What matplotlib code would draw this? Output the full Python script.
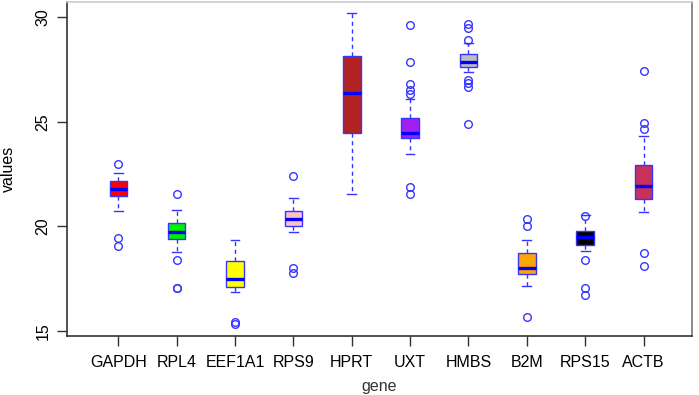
import matplotlib
matplotlib.use('Agg')
import matplotlib.pyplot as plt

plt.rcParams['font.family'] = ['Liberation Sans', 'DejaVu Sans']

# ── Data ──────────────────────────────────────────────────────────────────────
genes = ['GAPDH', 'RPL4', 'EEF1A1', 'RPS9', 'HPRT', 'UXT', 'HMBS', 'B2M', 'RPS15', 'ACTB']
whisker_lo = [20.75, 18.76, 16.85, 19.74, 21.53, 23.46, 27.39, 17.16, 18.84, 20.67]
q1         = [21.45, 19.38, 17.12, 20.03, 24.45, 24.21, 27.63, 17.72, 19.11, 21.32]
median     = [21.80, 19.74, 17.50, 20.38, 26.37, 24.47, 27.84, 18.01, 19.48, 21.93]
q3         = [22.17, 20.15, 18.33, 20.73, 28.14, 25.16, 28.22, 18.71, 19.79, 22.93]
whisker_hi = [22.53, 20.80, 19.35, 21.34, 30.18, 26.08, 28.75, 19.36, 20.54, 24.33]
outliers = [
    [22.96, 19.46, 19.06],
    [21.56, 18.38, 17.04, 17.06],
    [15.46, 15.33],
    [22.41, 18.02, 17.80],
    [],
    [29.62, 27.87, 26.79, 26.51, 26.32, 21.89, 21.53],
    [29.67, 29.46, 28.90, 26.99, 26.86, 26.64, 24.88],
    [20.34, 20.03, 15.68],
    [20.49, 18.39, 17.05, 16.72],
    [27.44, 24.92, 24.64, 18.71, 18.11],
]
fill_colors = ['#ff0000', '#00ee00', '#ffff00', '#ffc0cb', '#b22222',
               '#a020f0', '#bebebe', '#ffa500', '#000000', '#c8325a']

stats = [
    dict(label=g, whislo=wl, q1=a, med=m, q3=b, whishi=wh, fliers=o)
    for g, wl, a, m, b, wh, o in zip(genes, whisker_lo, q1, median, q3, whisker_hi, outliers)
]

# ── Plot ──────────────────────────────────────────────────────────────────────
fig = plt.figure(figsize=(6.99, 3.95), dpi=100)
ax = fig.add_axes([0.0959, 0.1494, 0.894, 0.8456])

positions = list(range(1, len(genes) + 1))
blue = '#3535ff'
bp = ax.bxp(
    stats, positions=positions, widths=0.3, capwidths=0.15, patch_artist=True,
    boxprops=dict(edgecolor=blue, linewidth=1.0),
    whiskerprops=dict(color=blue, linewidth=1.0, linestyle=(0, (3, 2.5))),
    capprops=dict(color=blue, linewidth=1.0),
    medianprops=dict(color='#0000ff', linewidth=2.4, solid_capstyle='butt'),
    flierprops=dict(marker='o', markerfacecolor='none', markeredgecolor=blue,
                    markersize=5.5, markeredgewidth=1.0),
)
for patch, c in zip(bp['boxes'], fill_colors):
    patch.set_facecolor(c)

ax.set_xlim(0.12, 10.83)
ax.set_ylim(14.77, 30.72)
ax.set_yticks([15, 20, 25, 30])
ax.set_xticks(positions)
ax.set_xticklabels(genes, fontsize=11.5)
for lab in ax.get_yticklabels():
    lab.set_rotation(90)
    lab.set_va('center')
    lab.set_fontsize(11.5)
ax.tick_params(axis='both', length=7, width=1.0, color='#333333', pad=7)
ax.tick_params(axis='y', pad=5)

ax.set_ylabel('values', fontsize=11.5, labelpad=14)
# x-axis title sits at the very bottom edge of the figure, as in the reference
fig.text(0.543, 0.002, 'gene', ha='center', va='bottom',
         fontsize=11.5, color='#333333')

ax.spines['left'].set_color('#333333')
ax.spines['bottom'].set_color('#333333')
ax.spines['top'].set_color('#cccccc')
ax.spines['right'].set_color('#777777')
for s in ax.spines.values():
    s.set_linewidth(1.2)

fig.savefig('out.png', dpi=100)
plt.close(fig)
